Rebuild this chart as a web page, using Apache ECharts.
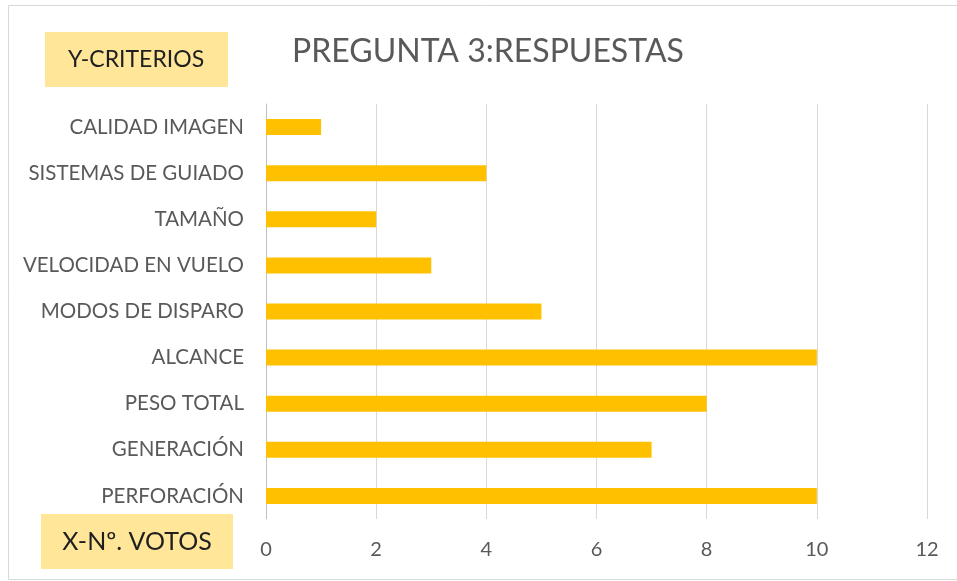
<!DOCTYPE html>
<html><head><meta charset="utf-8">
<script src="https://cdn.jsdelivr.net/npm/echarts@6/dist/echarts.min.js"></script>
<style>html,body{margin:0;padding:0;background:#fff}#c{width:957px;height:581px}</style>
</head><body><div id="c"></div>
<script>
const categories = ['PERFORACIÓN','GENERACIÓN','PESO TOTAL','ALCANCE','MODOS DE DISPARO','VELOCIDAD EN VUELO','TAMAÑO','SISTEMAS DE GUIADO','CALIDAD IMAGEN'];
const votes = [10,7,8,10,5,3,2,4,1];
const xTicks = [0,2,4,6,8,10,12];
const titleText = 'PREGUNTA 3:RESPUESTAS';
const yLabel = 'Y-CRITERIOS';
const xLabel = 'X-Nº. VOTOS';
const FONT = 'Lato, "Open Sans", sans-serif';
const chart = echarts.init(document.getElementById('c'), null, {renderer:'canvas'});
chart.setOption({
  animation:false,
  backgroundColor:'#fff',
  title:{text:titleText,left:483,top:31,textAlign:'center',textStyle:{fontFamily:FONT,fontSize:32,fontWeight:'normal',color:'#595959'}},
  grid:{left:266,right:30,top:104,bottom:62,containLabel:false},
  xAxis:{type:'value',min:xTicks[0],max:xTicks[xTicks.length-1],interval:2,
    axisLine:{show:false},axisTick:{show:false},
    axisLabel:{fontFamily:FONT,fontSize:20,color:'#595959',margin:21},
    splitLine:{lineStyle:{color:'#d9d9d9',width:1}}},
  yAxis:{type:'category',data:categories,
    axisLine:{show:true,lineStyle:{color:'#bfbfbf'}},axisTick:{show:false},
    axisLabel:{fontFamily:FONT,fontSize:20.5,color:'#595959',margin:22}},
  series:[{type:'bar',data:votes,barWidth:16,itemStyle:{color:'#FFC000'}}],
  graphic:[
    {type:'rect',shape:{x:8.5,y:5.5,width:960,height:574},style:{fill:'none',stroke:'#d9d9d9',lineWidth:1},silent:true,z:-10},
    {type:'rect',shape:{x:45,y:32,width:183,height:55},style:{fill:'#FFE699'}},
    {type:'text',x:136,y:60,style:{text:yLabel,align:'center',verticalAlign:'middle',font:'23px '+FONT,fill:'#1f1f1f'},z:10},
    {type:'rect',shape:{x:41,y:514,width:192,height:55},style:{fill:'#FFE699'}},
    {type:'text',x:137,y:542,style:{text:xLabel,align:'center',verticalAlign:'middle',font:'25px '+FONT,fill:'#1f1f1f'},z:10}
  ]
});
</script></body></html>
